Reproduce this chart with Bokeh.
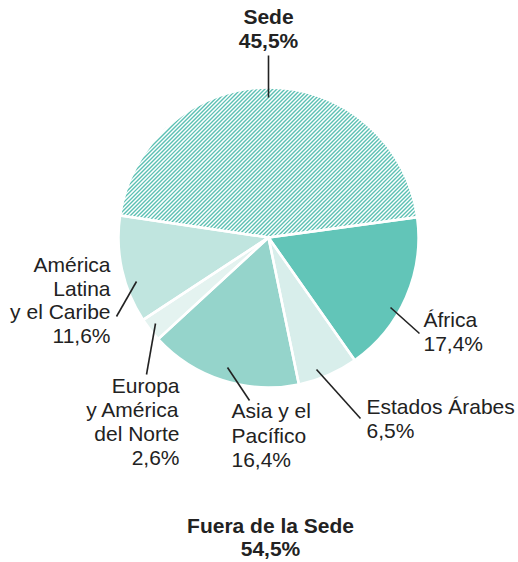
import math
from bokeh.plotting import figure
from bokeh.models import Range1d, ColumnDataSource
from bokeh.core.properties import value
from bokeh.embed import file_html
from bokeh.resources import INLINE

# ---- data (counter-clockwise order, starting with África) ----
regions = ["África", "Sede", "América Latina y el Caribe",
           "Europa y América del Norte", "Asia y el Pacífico", "Estados Árabes"]
shares = [17.4, 45.5, 11.6, 2.6, 16.4, 6.5]
colors = ["#62c5b8", "#ffffff", "#c0e5df", "#e4f3f0", "#95d4cb", "#d8eeeb"]
hatched = [False, True, False, False, False, False]

sede_label = ["Sede", "45,5%"]
fuera_label = ["Fuera de la Sede", "54,5%"]
label_lines = {
    "América Latina y el Caribe": ["América", "Latina", "y el Caribe", "11,6%"],
    "Europa y América del Norte": ["Europa", "y América", "del Norte", "2,6%"],
    "Asia y el Pacífico": ["Asia y el", "Pacífico", "16,4%"],
    "África": ["África", "17,4%"],
    "Estados Árabes": ["Estados Árabes", "6,5%"],
}

# ---- layout ----
W, H = 518, 562
CX, CY, R = 268, 325, 150
START_DEG = -54.9
TY = 7          # text baseline correction
HATCH_STEP = 4  # horizontal period of the diagonal hatch
HATCH_COLOR = "#5cc0b3"

total = sum(shares)
starts, ends = [], []
acc = START_DEG
for s in shares:
    starts.append(math.radians(acc))
    acc += s / total * 360.0
    ends.append(math.radians(acc))

p = figure(width=W, height=H, output_backend="svg", toolbar_location=None,
           x_range=Range1d(0, W), y_range=Range1d(0, H), min_border=0)
p.axis.visible = False
p.grid.visible = False
p.outline_line_color = None
p.background_fill_color = "white"
p.border_fill_color = "white"

src = ColumnDataSource(dict(start=starts, end=ends, color=colors,
                            x=[CX] * len(shares), y=[CY] * len(shares)))
p.wedge(x="x", y="y", radius=R, start_angle="start", end_angle="end",
        fill_color="color", line_color=None, source=src)


# diagonal hatch ("/") clipped to the hatched sector(s)
def sector_hatch(a0, a1):
    xs, ys = [], []
    n = int(R * 1.5 / HATCH_STEP) + 2
    for k in range(-n, n + 1):
        c = k * HATCH_STEP
        disc = 2 * R * R - c * c
        if disc <= 0:
            continue
        lo = (-c - math.sqrt(disc)) / 2
        hi = (-c + math.sqrt(disc)) / 2
        ok = True
        for a, b in ((math.cos(a0) - math.sin(a0), c * math.cos(a0)),
                     (math.sin(a1) - math.cos(a1), -c * math.cos(a1))):
            if abs(a) < 1e-12:
                if b < 0:
                    ok = False
            elif a > 0:
                lo = max(lo, -b / a)
            else:
                hi = min(hi, -b / a)
        if ok and hi > lo:
            xs.append([CX + lo, CX + hi])
            ys.append([CY + lo + c, CY + hi + c])
    return xs, ys


hx, hy = [], []
for st, en, h in zip(starts, ends, hatched):
    if h:
        xs, ys = sector_hatch(st, en)
        hx += xs
        hy += ys
p.multi_line(xs=hx, ys=hy, line_color=HATCH_COLOR, line_width=1.4)

# white separators
p.wedge(x="x", y="y", radius=R, start_angle="start", end_angle="end",
        fill_alpha=0, line_color="white", line_width=2.5, source=src)

# leader lines
lead_x0 = [268, 136, 155, 227, 390, 316]
lead_y0 = [507, 281, 239, 195, 255, 193]
lead_x1 = [268, 116, 146, 249, 419, 360]
lead_y1 = [465, 246, 188, 162, 229, 144]
p.segment(x0=lead_x0, y0=lead_y0, x1=lead_x1, y1=lead_y1,
          line_color="#222222", line_width=1.6)

FONT = value("Liberation Sans")


def add_lines(lines, x, y_top, align, bold=False, step=24):
    ys = [y_top + TY - i * step for i in range(len(lines))]
    p.text(x=[x] * len(lines), y=ys, text=lines, text_font=FONT,
           text_font_size="21px", text_align=align, text_baseline="alphabetic",
           text_color="#222222", text_font_style="bold" if bold else "normal")


add_lines(sede_label, 268, 539, "center", bold=True)
add_lines(fuera_label, 270, 30, "center", bold=True, step=23)
add_lines(label_lines["América Latina y el Caribe"], 110, 291, "right", step=23.7)
add_lines(label_lines["Europa y América del Norte"], 179, 170, "right")
add_lines(label_lines["Asia y el Pacífico"], 231, 145, "left", step=24.5)
add_lines(label_lines["África"], 423, 236, "left")
add_lines(label_lines["Estados Árabes"], 366, 149, "left")

open("out.html", "w").write(file_html(p, INLINE))
